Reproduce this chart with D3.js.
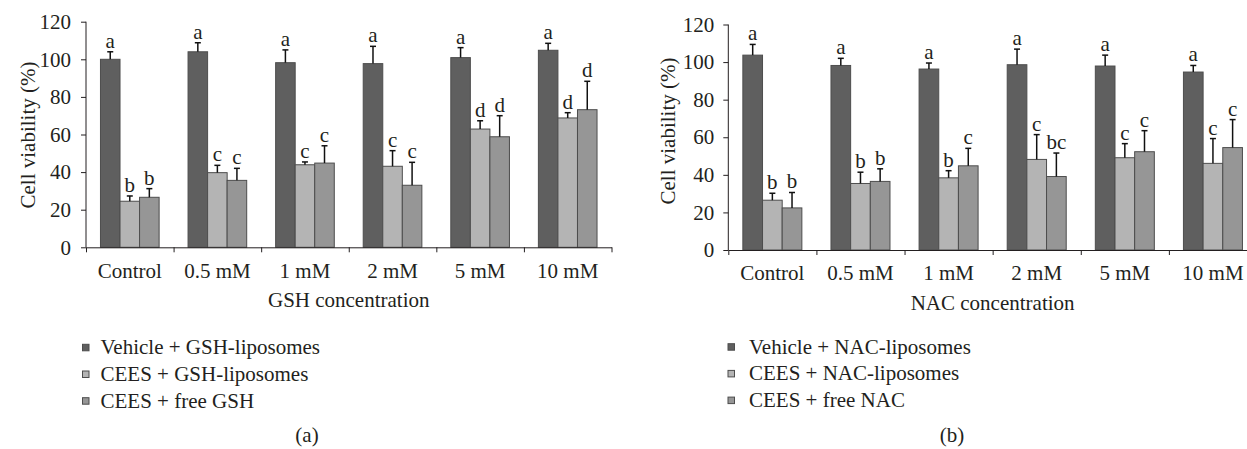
<!DOCTYPE html>
<html>
<head>
<meta charset="utf-8">
<script src="https://cdn.jsdelivr.net/npm/d3@7"></script>
<style>
  body { margin: 0; background: #fff; }
  svg { display: block; }
  text { font-family: "Liberation Serif", "Times New Roman", serif; fill: #231f20; }
  .axis path, .axis line { stroke: #231f20; }
</style>
</head>
<body>
<svg id="main"></svg>
<script>
var categories = ["Control", "0.5 mM", "1 mM", "2 mM", "5 mM", "10 mM"];
var yTicks = [0, 20, 40, 60, 80, 100, 120];

// panel (a) - GSH
var gshSeries = ["Vehicle + GSH-liposomes", "CEES + GSH-liposomes", "CEES + free GSH"];
var gshVehicle = [100, 104, 98.2, 97.7, 100.9, 104.8];
var gshVehicleErr = [4, 4.8, 6.8, 9.2, 5.3, 3.7];
var gshLipo = [24.5, 39.7, 43.9, 43.1, 62.9, 68.8];
var gshLipoErr = [2.8, 3.9, 1.5, 8.3, 4.4, 2.8];
var gshFree = [26.6, 35.6, 44.8, 33, 58.8, 73.2];
var gshFreeErr = [4.6, 6.4, 9.2, 12.2, 11.2, 15.1];
var gshVehicleLetters = ["a", "a", "a", "a", "a", "a"];
var gshLipoLetters = ["b", "c", "c", "c", "d", "d"];
var gshFreeLetters = ["b", "c", "c", "c", "d", "d"];

// panel (b) - NAC
var nacSeries = ["Vehicle + NAC-liposomes", "CEES + NAC-liposomes", "CEES + free NAC"];
var nacVehicle = [103.7, 98.2, 96.3, 98.6, 97.9, 94.7];
var nacVehicleErr = [5.7, 3.8, 3.2, 8.3, 5.8, 3.5];
var nacLipo = [26.5, 35.4, 38.4, 48.2, 49.1, 46.1];
var nacLipoErr = [3.7, 6.0, 3.8, 13.2, 7.5, 13.2];
var nacFree = [22.4, 36.5, 44.8, 39.1, 52.3, 54.5];
var nacFreeErr = [8.2, 6.7, 9.3, 12.5, 11.2, 14.9];
var nacVehicleLetters = ["a", "a", "a", "a", "a", "a"];
var nacLipoLetters = ["b", "b", "b", "c", "c", "c"];
var nacFreeLetters = ["b", "b", "c", "bc", "c", "c"];

var colors = ["#5f5f5f", "#b4b4b4", "#969696"];
var strokeColor = "#4d4d4d";
var fs = 21;

var w = 1247;
var h = 449;

var svg = d3.select("#main")
  .attr("width", w)
  .attr("height", h);

function drawPanel(p) {
  var g = svg.append("g");

  var x = d3.scaleBand()
    .domain(categories)
    .range([p.left, p.right]);

  var xSub = d3.scaleBand()
    .domain([0, 1, 2])
    .range([0, x.bandwidth()])
    .paddingOuter(0.74);

  var y = d3.scaleLinear()
    .domain([0, 120])
    .range([p.bottom, p.top]);

  // flatten into rows
  var rows = [];
  categories.forEach(function(c, i) {
    p.values.forEach(function(vals, s) {
      rows.push({cat: c, s: s, v: vals[i], e: p.errs[s][i], l: p.letters[s][i]});
    });
  });

  function cx(d) { return x(d.cat) + xSub(d.s) + xSub.bandwidth() / 2; }

  g.selectAll("rect.bar")
    .data(rows)
    .enter()
    .append("rect")
    .attr("class", "bar")
    .attr("x", function(d) { return x(d.cat) + xSub(d.s); })
    .attr("y", function(d) { return y(d.v); })
    .attr("width", xSub.bandwidth())
    .attr("height", function(d) { return y(0) - y(d.v); })
    .attr("fill", function(d) { return colors[d.s]; })
    .attr("stroke", strokeColor)
    .attr("stroke-width", 1);

  // error bars (upper only)
  var eb = g.selectAll("g.err")
    .data(rows)
    .enter()
    .append("g")
    .attr("class", "err");

  eb.append("line")
    .attr("x1", cx)
    .attr("x2", cx)
    .attr("y1", function(d) { return y(d.v); })
    .attr("y2", function(d) { return y(d.v + d.e); })
    .attr("stroke", "#111")
    .attr("stroke-width", 1.5);

  eb.append("line")
    .attr("x1", function(d) { return cx(d) - 3; })
    .attr("x2", function(d) { return cx(d) + 3; })
    .attr("y1", function(d) { return y(d.v + d.e); })
    .attr("y2", function(d) { return y(d.v + d.e); })
    .attr("stroke", "#111")
    .attr("stroke-width", 1.5);

  eb.append("text")
    .attr("x", cx)
    .attr("y", function(d) { return y(d.v + d.e) - 4; })
    .attr("text-anchor", "middle")
    .attr("font-size", fs)
    .text(function(d) { return d.l; });

  // y axis
  var yAxis = d3.axisLeft(y)
    .tickValues(yTicks)
    .tickSize(5)
    .tickPadding(p.yPad);

  g.append("g")
    .attr("class", "axis")
    .attr("transform", "translate(" + p.left + ",0)")
    .call(yAxis)
    .call(function(a) {
      a.select(".domain").attr("d", "M0," + p.top + "V" + p.bottom);
      a.selectAll("text").attr("font-size", fs).attr("font-family", null);
    });

  // x axis: tick marks at category boundaries, labels centred
  var xLin = d3.scaleLinear()
    .domain([0, categories.length])
    .range([p.left, p.right]);

  g.append("g")
    .attr("class", "axis")
    .attr("transform", "translate(0," + p.bottom + ")")
    .call(d3.axisBottom(xLin).tickValues(d3.range(categories.length + 1)).tickSize(5).tickSizeOuter(0).tickFormat(""));

  g.append("g")
    .attr("class", "axis")
    .attr("transform", "translate(0," + p.bottom + ")")
    .call(d3.axisBottom(x).tickSize(0).tickPadding(p.xPad))
    .call(function(a) {
      a.select(".domain").remove();
      a.selectAll("text").attr("font-size", fs).attr("font-family", null);
    });

  // axis titles
  g.append("text")
    .attr("x", (p.left + p.right) / 2)
    .attr("y", p.xTitleY)
    .attr("text-anchor", "middle")
    .attr("font-size", fs)
    .text(p.xTitle);

  g.append("text")
    .attr("transform", "translate(" + p.yTitleX + "," + p.yTitleY + ") rotate(-90)")
    .attr("text-anchor", "middle")
    .attr("font-size", fs)
    .text("Cell viability (%)");

  // legend
  var lg = g.selectAll("g.legend")
    .data(p.series)
    .enter()
    .append("g")
    .attr("class", "legend")
    .attr("transform", function(d, i) {
      return "translate(" + p.legendX + "," + (p.legendY + i * 26.7) + ")";
    });

  lg.append("rect")
    .attr("x", -3)
    .attr("y", -3)
    .attr("width", 6.5)
    .attr("height", 6.5)
    .attr("fill", function(d, i) { return colors[i]; })
    .attr("stroke", strokeColor)
    .attr("stroke-width", 1);

  lg.append("text")
    .attr("x", p.legendTextDx)
    .attr("y", 7)
    .attr("font-size", fs)
    .text(function(d) { return d; });

  g.append("text")
    .attr("x", p.capX)
    .attr("y", 442)
    .attr("text-anchor", "middle")
    .attr("font-size", fs)
    .text(p.caption);
}

drawPanel({
  left: 86, right: 611.5, top: 21.7, bottom: 247.3,
  yPad: 10, xPad: 15.5,
  values: [gshVehicle, gshLipo, gshFree],
  errs: [gshVehicleErr, gshLipoErr, gshFreeErr],
  letters: [gshVehicleLetters, gshLipoLetters, gshFreeLetters],
  series: gshSeries,
  xTitle: "GSH concentration", xTitleY: 307,
  yTitleX: 35, yTitleY: 135,
  legendX: 85.5, legendY: 347.3, legendTextDx: 15,
  capX: 307, caption: "(a)"
});

drawPanel({
  left: 728.3, right: 1257, top: 24.5, bottom: 250,
  yPad: 9, xPad: 15.5,
  values: [nacVehicle, nacLipo, nacFree],
  errs: [nacVehicleErr, nacLipoErr, nacFreeErr],
  letters: [nacVehicleLetters, nacLipoLetters, nacFreeLetters],
  series: nacSeries,
  xTitle: "NAC concentration", xTitleY: 310.3,
  yTitleX: 675, yTitleY: 131,
  legendX: 731, legendY: 346.7, legendTextDx: 18,
  capX: 952, caption: "(b)"
});
</script>
</body>
</html>
